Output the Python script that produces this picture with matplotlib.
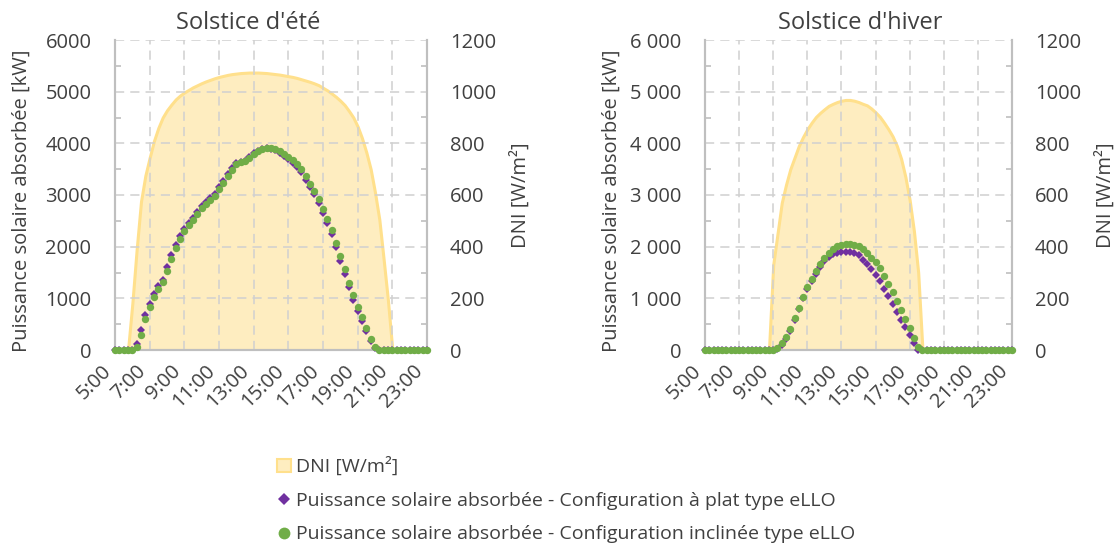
import numpy as np
import matplotlib
matplotlib.use("Agg")
import matplotlib.pyplot as plt
from matplotlib.patches import Patch
from matplotlib.lines import Line2D
from matplotlib.ticker import FixedLocator, FuncFormatter

plt.rcParams['font.family'] = ['Open Sans', 'DejaVu Sans']

# 15-minute steps from 5:00 to 23:00 (73 points)
tick_labels = ["5:00", "7:00", "9:00", "11:00", "13:00", "15:00",
               "17:00", "19:00", "21:00", "23:00"]

# ---------------- Summer solstice ----------------
dni_summer = [0, 0, 0, 0,
              180, 390, 575, 675,            # 6:00
              745, 810, 860, 900,            # 7:00
              928, 950, 970, 985,            # 8:00
              997, 1007, 1017, 1025,         # 9:00
              1033, 1040, 1046, 1052,        # 10:00
              1057, 1061, 1065, 1068,        # 11:00
              1070, 1072, 1073, 1074,        # 12:00
              1074, 1074, 1073, 1072,        # 13:00
              1070, 1068, 1066, 1063,        # 14:00
              1060, 1057, 1053, 1048,        # 15:00
              1043, 1038, 1032, 1025,        # 16:00
              1015, 1005, 993, 980,          # 17:00
              965, 948, 925, 900,            # 18:00
              865, 820, 765, 700,            # 19:00
              610, 505, 350, 190,            # 20:00
              0, 0, 0, 0,                    # 21:00
              0, 0, 0, 0,                    # 22:00
              0]                             # 23:00

flat_summer = [0, 0, 0, 0,
               0, 120, 380, 680,
               900, 1080, 1230, 1360,
               1600, 1830, 2030, 2200,
               2350, 2450, 2560, 2680,
               2790, 2860, 2940, 3020,
               3150, 3280, 3400, 3520,
               3620, 3640, 3660, 3740,
               3810, 3860, 3900, 3910,
               3900, 3870, 3820, 3760,
               3700, 3620, 3550, 3440,
               3290, 3150, 3010, 2850,
               2650, 2450, 2250, 1990,
               1730, 1470, 1210, 970,
               760, 560, 360, 170,
               30, 0, 0, 0,
               0, 0, 0, 0,
               0, 0, 0, 0,
               0]

tilt_summer = [0, 0, 0, 0,
               0, 60, 300, 600,
               830, 1030, 1180, 1320,
               1530, 1770, 1980, 2150,
               2300, 2410, 2520, 2640,
               2750, 2830, 2910, 2990,
               3110, 3240, 3370, 3490,
               3600, 3630, 3650, 3720,
               3790, 3850, 3890, 3910,
               3910, 3890, 3850, 3800,
               3740, 3670, 3600, 3500,
               3360, 3220, 3080, 2920,
               2730, 2530, 2330, 2080,
               1820, 1560, 1300, 1060,
               840, 630, 420, 220,
               60, 0, 0, 0,
               0, 0, 0, 0,
               0, 0, 0, 0,
               0]

# ---------------- Winter solstice ----------------
dni_winter = [0, 0, 0, 0,
              0, 0, 0, 0,
              0, 0, 0, 0,
              0, 0, 0, 0,                    # 8:00
              330, 450, 570, 640,            # 9:00
              700, 745, 790, 825,            # 10:00
              855, 880, 902, 918,            # 11:00
              932, 945, 953, 960,            # 12:00
              965, 968, 968, 965,            # 13:00
              960, 953, 947, 935,            # 14:00
              920, 903, 880, 855,            # 15:00
              827, 790, 740, 670,            # 16:00
              580, 460, 300, 0,              # 17:00
              0, 0, 0, 0,
              0, 0, 0, 0,
              0, 0, 0, 0,
              0, 0, 0, 0,
              0, 0, 0, 0,
              0]

flat_winter = [0, 0, 0, 0,
               0, 0, 0, 0,
               0, 0, 0, 0,
               0, 0, 0, 0,
               0, 20, 100, 220,
               370, 580, 800, 1000,
               1180, 1340, 1480, 1610,
               1720, 1800, 1850, 1880,
               1900, 1905, 1895, 1870,
               1830, 1750, 1670, 1570,
               1460, 1330, 1190, 1040,
               890, 740, 590, 440,
               290, 140, 0, 0,
               0, 0, 0, 0,
               0, 0, 0, 0,
               0, 0, 0, 0,
               0, 0, 0, 0,
               0, 0, 0, 0,
               0]

tilt_winter = [0, 0, 0, 0,
               0, 0, 0, 0,
               0, 0, 0, 0,
               0, 0, 0, 0,
               0, 40, 140, 260,
               400, 610, 820, 1020,
               1210, 1380, 1530, 1670,
               1790, 1880, 1950, 2010,
               2040, 2060, 2060, 2040,
               2010, 1950, 1880, 1790,
               1700, 1580, 1440, 1280,
               1120, 950, 780, 600,
               420, 240, 60, 0,
               0, 0, 0, 0,
               0, 0, 0, 0,
               0, 0, 0, 0,
               0, 0, 0, 0,
               0, 0, 0, 0,
               0]

titles = ["Solstice d'été", "Solstice d'hiver"]
ylabel_left = "Puissance solaire absorbée [kW]"
ylabel_right = "DNI [W/m²]"
legend_labels = ["DNI [W/m²]",
                 "Puissance solaire absorbée - Configuration à plat type eLLO",
                 "Puissance solaire absorbée - Configuration inclinée type eLLO"]

C_DNI_FILL = "#FEEDC0"
C_DNI_EDGE = "#FFE08C"
C_FLAT = "#7030A0"
C_TILT = "#70AD47"
C_GRID = "#D0D0D0"
C_SPINE = "#BFBFBF"
C_TEXT = "#404040"

W, H = 1120, 548
fig = plt.figure(figsize=(W / 100, H / 100), dpi=100)


def fx(px):
    return px / W


def fy(py):
    return 1 - py / H


def make_panel(x0, x1, dni, flat, tilt, title, title_x, thin_space):
    y0, y1 = 40, 350
    wpx = x1 - x0
    ax = fig.add_axes([fx(x0), fy(y1), fx(wpx), (y1 - y0) / H])
    ax2 = ax.twinx()
    ax.set_zorder(ax2.get_zorder() + 1)
    ax.patch.set_visible(False)

    n = len(dni)
    x = np.arange(n)
    ax2.fill_between(x, dni, 0, facecolor=C_DNI_FILL, edgecolor=C_DNI_EDGE,
                     linewidth=2.2, zorder=1)
    ax2.set_ylim(0, 1200)
    ax.set_ylim(0, 6000)
    ax.set_xlim(0, n - 1)

    ax.plot(x, flat, linestyle='none', marker='D', markersize=4.0,
            color=C_FLAT, markeredgewidth=0, zorder=3, clip_on=False)
    ax.plot(x, tilt, linestyle='none', marker='o', markersize=5.3,
            color=C_TILT, markeredgewidth=0, zorder=4, clip_on=False)

    ax.set_yticks(np.arange(0, 6001, 1000))
    ax.yaxis.set_minor_locator(FixedLocator(np.arange(500, 6000, 1000)))
    ax2.set_yticks(np.arange(0, 1201, 200))
    ax2.yaxis.set_minor_locator(FixedLocator(np.arange(100, 1200, 200)))
    xt = np.arange(0, n, 8)
    ax.set_xticks(xt)
    ax.set_xticklabels(tick_labels, rotation=45, ha='right', va='top',
                       rotation_mode='default')
    ax.grid(True, which='major', color=C_GRID, linestyle=(0, (6, 4)),
            linewidth=1.1)
    ax.set_axisbelow(True)

    if thin_space:
        ax.yaxis.set_major_formatter(FuncFormatter(
            lambda v, p: f"{int(v):,}".replace(",", "\u00a0")))

    for a in (ax, ax2):
        a.spines['top'].set_visible(False)
        for s in ('left', 'right', 'bottom'):
            a.spines[s].set_color(C_SPINE)
            a.spines[s].set_linewidth(1.5)

    ax.tick_params(axis='y', which='major', length=0, pad=17,
                   labelsize=14.5, labelcolor=C_TEXT)
    ax.tick_params(axis='y', which='minor', direction='in', length=4,
                   color=C_SPINE, width=1.2)
    ax2.tick_params(axis='y', which='major', length=0, pad=16.5,
                    labelsize=14.5, labelcolor=C_TEXT)
    ax2.tick_params(axis='y', which='minor', direction='in', length=4,
                    color=C_SPINE, width=1.2)
    ax.tick_params(axis='x', which='major', length=0, pad=8,
                   labelsize=14.5, labelcolor=C_TEXT)

    fig.text(fx(title_x), fy(23), title, fontsize=17, color=C_TEXT,
             ha='center', va='center')
    ax.set_ylabel(ylabel_left, fontsize=14.5, color=C_TEXT)
    ax2.set_ylabel(ylabel_right, fontsize=14.5, color=C_TEXT)
    ax.yaxis.set_label_coords(-83 / wpx, 0.48)
    ax2.yaxis.set_label_coords(1 + 83 / wpx, 0.5)
    return ax, ax2


make_panel(115, 427, dni_summer, flat_summer, tilt_summer, titles[0], 248, False)
make_panel(705, 1012, dni_winter, flat_winter, tilt_winter, titles[1], 860, True)

handles = [
    Patch(facecolor=C_DNI_FILL, edgecolor=C_DNI_EDGE, linewidth=1.5),
    Line2D([], [], linestyle='none', marker='D', markersize=6,
           color=C_FLAT, markeredgewidth=0),
    Line2D([], [], linestyle='none', marker='o', markersize=8.5,
           color=C_TILT, markeredgewidth=0),
]
leg = fig.legend(handles, legend_labels, loc='upper left',
                 bbox_to_anchor=(fx(277), fy(447)), frameon=False,
                 fontsize=14, labelspacing=0.8, handlelength=0.7,
                 handleheight=0.7, handletextpad=0.3, borderpad=0,
                 borderaxespad=0)
# borderaxespad removed -> shift to match reference text start (~296 px)
leg.set_bbox_to_anchor((fx(277), fy(457)), transform=fig.transFigure)
for t in leg.get_texts():
    t.set_color(C_TEXT)

fig.savefig("out.png", dpi=100)
